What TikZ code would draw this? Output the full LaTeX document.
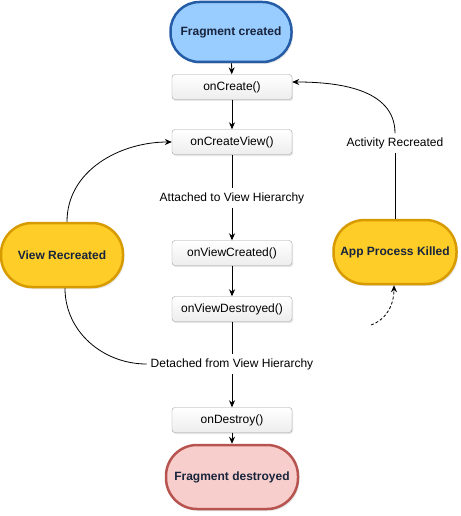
\documentclass[tikz,border=0pt]{standalone}
\usepackage{fontspec}
\setmainfont{Liberation Sans}
\usetikzlibrary{arrows.meta,positioning,shadows}

\definecolor{bluefill}{RGB}{153,204,255}
\definecolor{blueline}{RGB}{36,92,166}
\definecolor{yellowfill}{RGB}{255,205,40}
\definecolor{yellowline}{RGB}{215,155,0}
\definecolor{redfill}{RGB}{248,206,204}
\definecolor{redline}{RGB}{184,84,80}
\definecolor{navytext}{RGB}{24,36,60}

\begin{document}
\begin{tikzpicture}[x=1pt, y=-1pt,
    stepbox/.style={draw=gray!75, rounded corners=3pt, top color=white, bottom color=gray!14,
      minimum width=120pt, minimum height=25pt, inner sep=0pt, font=\fontsize{12}{14}\selectfont,
      drop shadow={opacity=0.2, shadow xshift=1pt, shadow yshift=-1.5pt}},
    pill/.style={line width=2.5pt, inner sep=0pt, text=navytext,
      font=\bfseries\fontsize{12}{14}\selectfont,
      drop shadow={opacity=0.2, shadow xshift=1.5pt, shadow yshift=-2pt}},
    lbl/.style={inner sep=4pt, font=\fontsize{12}{14}\selectfont},
    flow/.style={-{Stealth[length=7pt, width=6pt]}, line width=0.8pt},
    link/.style={line width=0.8pt}]
  \useasboundingbox (0,0) rectangle (460,516);

  % lifecycle start and end
  \node[pill, draw=blueline, fill=bluefill, minimum width=121pt, minimum height=60pt,
    rounded corners=29pt] (created) at (231,32) {Fragment created};
  \node[pill, draw=redline, fill=redfill, minimum width=132pt, minimum height=64pt,
    rounded corners=31pt] (destroyed) at (232,477) {Fragment destroyed};

  % callbacks
  \node[stepbox] (oncreate) at (232,87) {onCreate()};
  \node[stepbox] (oncreateview) at (232,142) {onCreateView()};
  \node[stepbox] (onviewcreated) at (232,253) {onViewCreated()};
  \node[stepbox] (onviewdestroyed) at (232,309) {onViewDestroyed()};
  \node[stepbox] (ondestroy) at (232,420) {onDestroy()};

  % labels on the main line
  \node[lbl] (attached) at (232,198) {Attached to View Hierarchy};
  \node[lbl] (detached) at (232,364) {Detached from View Hierarchy};
  \node[lbl] (actrec) at (395,143) {Activity Recreated};

  % side states
  \node[pill, draw=yellowline, fill=yellowfill, minimum width=122pt, minimum height=64pt,
    rounded corners=31pt] (viewrec) at (62,255) {View Recreated};
  \node[pill, draw=yellowline, fill=yellowfill, minimum width=123pt, minimum height=64pt,
    rounded corners=31pt] (appkilled) at (395,252) {App Process Killed};

  % main flow
  \draw[flow] (created) -- (oncreate);
  \draw[flow] (oncreate) -- (oncreateview);
  \draw[link] (oncreateview) -- (attached);
  \draw[flow] (attached) -- (onviewcreated);
  \draw[flow] (onviewcreated) -- (onviewdestroyed);
  \draw[link] (onviewdestroyed) -- (detached);
  \draw[flow] (detached) -- (ondestroy);
  \draw[flow] (ondestroy) -- (destroyed);

  % view recreated loop
  \draw[flow] ([xshift=5pt]viewrec.north) to[out=90, in=180] (oncreateview.west);
  \draw[link] ([xshift=3pt]viewrec.south) to[out=-90, in=180] (detached.west);

  % process killed loop
  \draw[link] (appkilled.north) -- (actrec.south);
  \draw[flow] (actrec.north) to[out=90, in=0] ([yshift=5pt]oncreate.east);
  \coordinate (killstart) at (371,325);
  \draw[flow, densely dashed] (killstart) to[out=20, in=-90] ([xshift=-1pt]appkilled.south);
\end{tikzpicture}
\end{document}
